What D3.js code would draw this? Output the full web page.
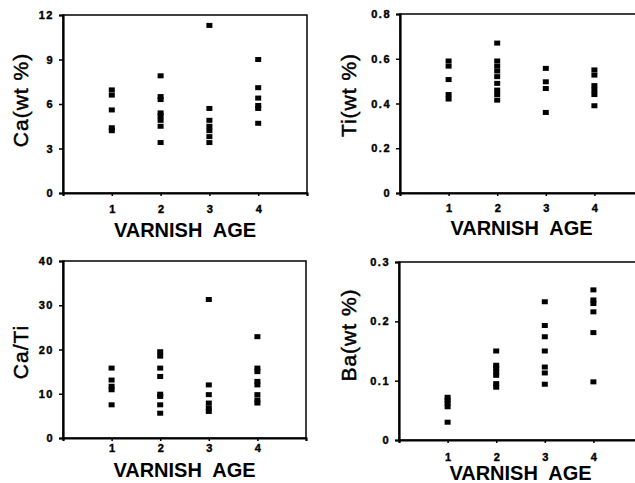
<!DOCTYPE html>
<html>
<head>
<meta charset="utf-8">
<script src="https://cdn.jsdelivr.net/npm/d3@7"></script>
<style>
  body { margin: 0; background: #fff; }
  text { font-family: "Liberation Sans", Arial, sans-serif; fill: #000; }
</style>
</head>
<body>
<div id="chart"></div>
<script>
// varnish age categories (x axis)
var ageCategories = [1, 2, 3, 4];

// values per age group
var caValues = [
    [6.95, 6.6, 5.6, 4.4, 4.2],
    [7.9, 6.5, 6.3, 5.4, 5.2, 4.9, 4.5, 3.4],
    [11.3, 5.7, 4.9, 4.5, 4.2, 3.8, 3.4],
    [9.0, 7.1, 6.4, 5.9, 5.7, 4.7]
];
var tiValues = [
    [0.59, 0.567, 0.507, 0.44, 0.42],
    [0.67, 0.59, 0.567, 0.545, 0.52, 0.49, 0.46, 0.44, 0.415],
    [0.557, 0.497, 0.467, 0.36],
    [0.55, 0.527, 0.48, 0.46, 0.44, 0.39]
];
var caTiValues = [
    [15.8, 13.1, 11.7, 10.9, 7.5],
    [19.5, 18.5, 15.8, 13.9, 9.9, 9.4, 7.5, 5.6],
    [31.3, 12.0, 9.8, 7.9, 6.8, 6.0],
    [22.9, 15.8, 15.0, 12.8, 12.0, 9.8, 8.6, 7.9]
];
var baValues = [
    [0.072, 0.067, 0.062, 0.056, 0.030],
    [0.150, 0.126, 0.121, 0.115, 0.109, 0.095, 0.089],
    [0.233, 0.193, 0.174, 0.150, 0.123, 0.113, 0.094],
    [0.253, 0.236, 0.230, 0.216, 0.181, 0.098]
];

// tick values / labels
var caTicks = [0, 3, 6, 9, 12];
var tiTicks = [0, 0.2, 0.4, 0.6, 0.8];
var caTiTicks = [0, 10, 20, 30, 40];
var baTicks = [0, 0.1, 0.2, 0.3];

var svg = d3.select("#chart").append("svg")
    .attr("width", 635)
    .attr("height", 483);

function drawPanel(opts) {
    var x = d3.scaleLinear().domain([0, 5]).range([opts.left, opts.right]);
    var y = d3.scaleLinear().domain([0, opts.max]).range([opts.bottom, opts.top]);

    var g = svg.append("g");

    // frame
    g.append("rect")
        .attr("x", opts.left).attr("y", opts.top)
        .attr("width", opts.right - opts.left)
        .attr("height", opts.bottom - opts.top)
        .attr("fill", "none")
        .attr("stroke", "#000")
        .attr("stroke-width", 1.5);

    // y axis
    var yAxis = d3.axisLeft(y)
        .tickValues(opts.ticks)
        .tickSize(4)
        .tickPadding(5)
        .tickFormat(function (d) { return d === 0 ? "0" : opts.fmt(d); });
    var ya = g.append("g")
        .attr("transform", "translate(" + opts.left + ",0)")
        .call(yAxis);
    ya.select(".domain").attr("stroke-width", 2.2);
    ya.selectAll(".tick line").attr("stroke-width", 1.5);
    ya.selectAll("text")
        .style("font-size", "11px")
        .style("font-weight", "bold")
        .style("letter-spacing", "1.5px")
        .attr("stroke", "#000")
        .attr("stroke-width", 0.4)
        .attr("font-family", null);

    // x axis
    var xAxis = d3.axisBottom(x)
        .tickValues(ageCategories)
        .tickSize(3)
        .tickPadding(opts.xPad)
        .tickFormat(d3.format("d"));
    var xa = g.append("g")
        .attr("transform", "translate(0," + opts.bottom + ")")
        .call(xAxis);
    xa.select(".domain").attr("stroke-width", 2.2);
    xa.selectAll(".tick line").attr("stroke-width", 1.5);
    xa.selectAll("text")
        .style("font-size", "11px")
        .style("font-weight", "bold")
        .attr("stroke", "#000")
        .attr("stroke-width", 0.4)
        .attr("font-family", null);

    // data points
    var points = [];
    opts.values.forEach(function (arr, i) {
        arr.forEach(function (v) { points.push({ age: ageCategories[i], v: v }); });
    });
    g.selectAll("rect.pt")
        .data(points)
        .enter().append("rect")
        .attr("class", "pt")
        .attr("x", function (d) { return x(d.age) - 3; })
        .attr("y", function (d) { return y(d.v) - 2.5; })
        .attr("width", 6)
        .attr("height", 5)
        .attr("fill", "#000");

    // x title
    g.append("text")
        .attr("x", (x(1) + x(4)) / 2)
        .attr("y", opts.bottom + opts.xTitleDy)
        .attr("text-anchor", "middle")
        .style("font-size", "20px")
        .style("font-weight", "bold")
        .style("white-space", "pre")
        .text("VARNISH  AGE");

    // y title
    g.append("text")
        .attr("transform", "translate(" + (opts.left - opts.yTitleDx) + "," + opts.yTitleCy + ") rotate(-90)")
        .attr("text-anchor", "middle")
        .style("font-size", "21px")
        .style("letter-spacing", "1px")
        .attr("stroke", "#000")
        .attr("stroke-width", 0.5)
        .text(opts.label);
}

drawPanel({ left: 63, right: 307, top: 15, bottom: 193, max: 12, ticks: caTicks,
    fmt: d3.format("d"), values: caValues, label: "Ca(wt %)",
    xPad: 9, xTitleDy: 44, yTitleDx: 35, yTitleCy: 100 });
drawPanel({ left: 400, right: 643, top: 14, bottom: 193, max: 0.8, ticks: tiTicks,
    fmt: d3.format(".1f"), values: tiValues, label: "Ti(wt %)",
    xPad: 8, xTitleDy: 42, yTitleDx: 44, yTitleCy: 95 });
drawPanel({ left: 63, right: 306, top: 261, bottom: 438, max: 40, ticks: caTiTicks,
    fmt: d3.format("d"), values: caTiValues, label: "Ca/Ti",
    xPad: 3, xTitleDy: 39, yTitleDx: 35, yTitleCy: 352 });
drawPanel({ left: 399, right: 642, top: 262, bottom: 440, max: 0.3, ticks: baTicks,
    fmt: d3.format(".1f"), values: baValues, label: "Ba(wt %)",
    xPad: 10, xTitleDy: 40, yTitleDx: 43, yTitleCy: 335 });
</script>
</body>
</html>
